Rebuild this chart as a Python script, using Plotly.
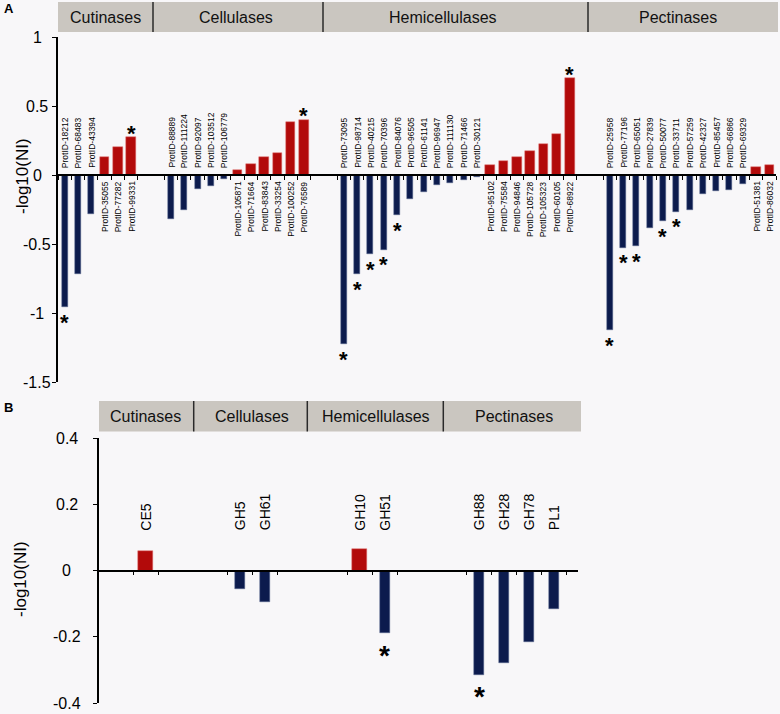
import plotly.graph_objects as go

W, H = 780, 714

# ---------------- Panel A data ----------------
cut_ids = ["18212", "68483", "43394", "35055", "77282", "99331"]
cut_vals = [-0.96, -0.72, -0.285, 0.133, 0.205, 0.273]
cell_ids = ["88889", "111224", "92097", "103512", "106779", "105871", "71664",
            "83843", "33254", "100252", "76589"]
cell_vals = [-0.32, -0.25, -0.104, -0.082, -0.03, 0.034, 0.08, 0.128, 0.16, 0.386, 0.40]
hemi_ids = ["73095", "98714", "40215", "70396", "84076", "96505", "61141", "96947",
            "111130", "71466", "30121", "95102", "75584", "94846", "105728", "105323",
            "60105", "68922"]
hemi_vals = [-1.225, -0.72, -0.575, -0.54, -0.29, -0.174, -0.126, -0.073, -0.058,
             -0.039, -0.017, 0.075, 0.099, 0.128, 0.174, 0.225, 0.295, 0.70]
pect_ids = ["25958", "77196", "65051", "27839", "50077", "33711", "57259", "42327",
            "85457", "66866", "69329", "51381", "86032"]
pect_vals = [-1.125, -0.527, -0.515, -0.386, -0.336, -0.268, -0.251, -0.138, -0.118,
             -0.109, -0.068, 0.06, 0.072]
sig_a = ["18212", "99331", "76589", "73095", "98714", "40215", "70396", "84076",
         "68922", "25958", "77196", "65051", "50077", "33711"]
group_names = ["Cutinases", "Cellulases", "Hemicellulases", "Pectinases"]
yticks_a = [1, 0.5, 0, -0.5, -1, -1.5]
yticklabels_a = ["1", "0.5", "0", "-0.5", "-1", "-1.5"]

# ---------------- Panel B data ----------------
b_fams = [["CE5"], ["GH5", "GH61"], ["GH10", "GH51"], ["GH88", "GH28", "GH78", "PL1"]]
b_vals = [[0.059], [-0.055, -0.094], [0.065, -0.19], [-0.314, -0.28, -0.217, -0.117]]
sig_b = ["GH51", "GH88"]
yticks_b = [0.4, 0.2, 0, -0.2, -0.4]
yticklabels_b = ["0.4", "0.2", "0", "-0.2", "-0.4"]

# ---------------- styles ----------------
RED = "#b20a0a"
BLUE = "#0c1b4d"
BG = "#f8f7f9"
BAND = "#cac6c0"
FONT = "Liberation Sans, Arial, Helvetica, sans-serif"


def px(x):
    return x / W


def py(y):
    return 1 - y / H


# slots for panel A
GAP_A = 2
xa, na, va = [], [], []
k = 0
for ids, vals in [(cut_ids, cut_vals), (cell_ids, cell_vals), (hemi_ids, hemi_vals), (pect_ids, pect_vals)]:
    for n, v in zip(ids, vals):
        xa.append(k); na.append(n); va.append(v); k += 1
    k += GAP_A
ticks_a = sorted(set([x - 0.5 for x in xa] + [x + 0.5 for x in xa]))

# slots for panel B
GAP_B = 2.78
xb, nb, vb = [], [], []
k = 0.0
for fams, vals in zip(b_fams, b_vals):
    for n, v in zip(fams, vals):
        xb.append(k); nb.append(n); vb.append(v); k += 1
    k += GAP_B
ticks_b = sorted(set([x - 0.5 for x in xb] + [x + 0.5 for x in xb]))

fig = go.Figure()


def add_bars(xs, vs, xaxis, yaxis, wneg, wpos):
    neg = [i for i, v in enumerate(vs) if v < 0]
    pos = [i for i, v in enumerate(vs) if v >= 0]
    fig.add_trace(go.Bar(x=[xs[i] for i in neg], y=[vs[i] for i in neg], width=wneg,
                         marker=dict(color=BLUE, line=dict(color="#5a6890", width=0.5)),
                         xaxis=xaxis, yaxis=yaxis, showlegend=False, hoverinfo="x+y"))
    fig.add_trace(go.Bar(x=[xs[i] for i in pos], y=[vs[i] for i in pos], width=wpos,
                         marker=dict(color=RED, line=dict(color="#e07070", width=0.5)),
                         xaxis=xaxis, yaxis=yaxis, showlegend=False, hoverinfo="x+y"))


add_bars(xa, va, "x", "y", 0.45, 0.72)
add_bars(xb, vb, "x2", "y2", 0.4, 0.59)

ann = []
# Panel A labels and asterisks
for x, n, v in zip(xa, na, va):
    ann.append(dict(x=x, y=0, xref="x", yref="y", text="ProtID-" + n, textangle=-90,
                    showarrow=False, font=dict(size=8.5, color="black", family=FONT),
                    xanchor="center", yanchor="bottom" if v < 0 else "top",
                    yshift=5 if v < 0 else -4))
    if n in sig_a:
        ann.append(dict(x=x, y=v, xref="x", yref="y", text="<b>*</b>", showarrow=False,
                        font=dict(size=22, color="black", family=FONT),
                        xanchor="center", yanchor="middle",
                        yshift=4 if v >= 0 else -15))
# Panel B labels and asterisks
for x, n, v in zip(xb, nb, vb):
    ann.append(dict(x=x, y=0, xref="x2", yref="y2", text=n, textangle=-90,
                    showarrow=False, font=dict(size=14, color="black", family=FONT),
                    xanchor="center", yanchor="bottom", yshift=38))
    if n in sig_b:
        ann.append(dict(x=x, y=v, xref="x2", yref="y2", text="<b>*</b>", showarrow=False,
                        font=dict(size=28, color="black", family=FONT),
                        xanchor="center", yanchor="middle", yshift=-22))

# y tick labels (centered like the original)
for t, lab in zip(yticks_a, yticklabels_a):
    ann.append(dict(x=px(37), y=t, xref="paper", yref="y", text=lab, showarrow=False,
                    font=dict(size=16, color="black", family=FONT), xanchor="center", yanchor="middle"))
for t, lab in zip(yticks_b, yticklabels_b):
    ann.append(dict(x=px(66.5), y=t, xref="paper", yref="y2", text=lab, showarrow=False,
                    font=dict(size=16, color="black", family=FONT), xanchor="center", yanchor="middle"))

# axis titles
ann.append(dict(x=px(22), y=py(176), xref="paper", yref="paper", text="-log10(NI)", textangle=-90,
                showarrow=False, xanchor="center", yanchor="middle",
                font=dict(size=17, color="black", family=FONT)))
ann.append(dict(x=px(20), y=py(579), xref="paper", yref="paper", text="-log10(NI)", textangle=-90,
                showarrow=False, xanchor="center", yanchor="middle",
                font=dict(size=17, color="black", family=FONT)))
# panel letters
ann.append(dict(x=px(2), y=py(9), xref="paper", yref="paper", text="<b>A</b>", showarrow=False,
                xanchor="left", yanchor="middle", font=dict(size=13, color="black", family=FONT)))
ann.append(dict(x=px(2), y=py(407), xref="paper", yref="paper", text="<b>B</b>", showarrow=False,
                xanchor="left", yanchor="middle", font=dict(size=13, color="black", family=FONT)))

shapes = []
# header bands
bands = [
    dict(x0=58, x1=778, y0=2, y1=32, divs=[153, 323, 588], centers=[105, 236, 443, 678]),
    dict(x0=99, x1=581, y0=401, y1=431.5, divs=[193.7, 307.3, 443.3], centers=[145.3, 251.7, 375.5, 514]),
]
for b in bands:
    shapes.append(dict(type="rect", xref="paper", yref="paper", x0=px(b["x0"]), x1=px(b["x1"]),
                       y0=py(b["y1"]), y1=py(b["y0"]), fillcolor=BAND, line=dict(width=0), layer="below"))
    for d in b["divs"]:
        shapes.append(dict(type="line", xref="paper", yref="paper", x0=px(d), x1=px(d),
                           y0=py(b["y1"]), y1=py(b["y0"]), line=dict(color="#2a2a2a", width=1.5)))
    for name, c in zip(group_names, b["centers"]):
        ann.append(dict(x=px(c), y=py((b["y0"] + b["y1"]) / 2), xref="paper", yref="paper", text=name,
                        showarrow=False, font=dict(size=16, color="#111111", family=FONT),
                        xanchor="center", yanchor="middle"))

# axis geometry
ya_dom = [py(382), py(37)]
yb_dom = [py(703), py(438)]
zero_a = ya_dom[0] + (0 - (-1.5)) / 2.5 * (ya_dom[1] - ya_dom[0])
zero_b = yb_dom[0] + (0 - (-0.4)) / 0.8 * (yb_dom[1] - yb_dom[0])
xb_left = -(145.7 - 99) / 25.0
xb_right = (578 - 145.7) / 25.0

common_x = dict(showline=True, linecolor="black", linewidth=1.5, ticks="outside", ticklen=4,
                tickwidth=1.3, tickcolor="black", showticklabels=False, showgrid=False, zeroline=False,
                anchor="free", fixedrange=True)
common_y = dict(showline=True, linecolor="black", linewidth=1.5, ticks="outside", ticklen=4,
                tickwidth=1.3, tickcolor="black", showticklabels=False, showgrid=False, zeroline=False,
                fixedrange=True)

fig.update_layout(
    width=W, height=H, margin=dict(l=0, r=0, t=0, b=0),
    paper_bgcolor=BG, plot_bgcolor="rgba(0,0,0,0)",
    barmode="overlay", bargap=0,
    font=dict(family=FONT, color="black"),
    xaxis=dict(domain=[px(58), px(776)], range=[-0.5, 53.5], tickvals=ticks_a, position=zero_a, **common_x),
    yaxis=dict(domain=ya_dom, range=[-1.5, 1], tickvals=yticks_a, anchor="x", **common_y),
    xaxis2=dict(domain=[px(99), px(578)], range=[xb_left, xb_right], tickvals=ticks_b, position=zero_b, **common_x),
    yaxis2=dict(domain=yb_dom, range=[-0.4, 0.4], tickvals=yticks_b, anchor="x2", **common_y),
    annotations=ann, shapes=shapes,
)

fig.write_html("out.html", config={"displayModeBar": False},
               post_script="document.body.style.margin='0';document.body.style.overflow='hidden';")
